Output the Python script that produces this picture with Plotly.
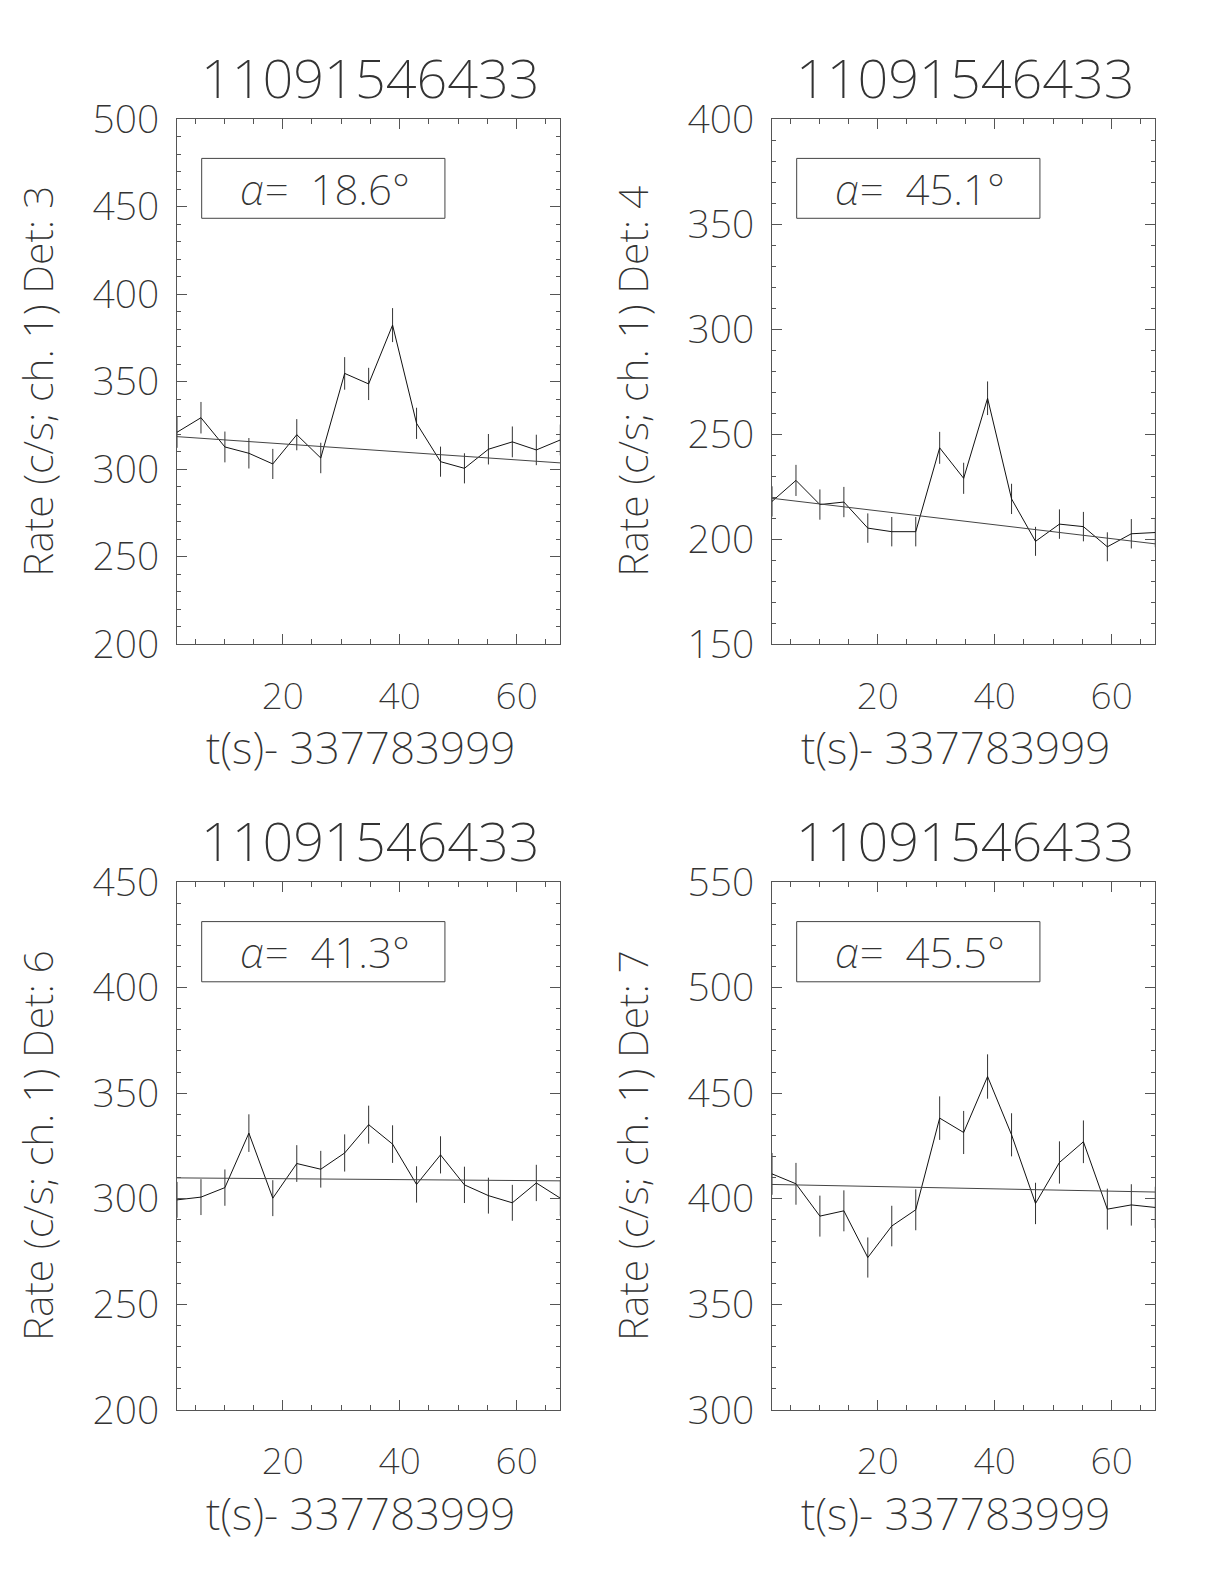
import plotly.graph_objects as go

# ---------------- data ----------------
t_sec = [1.92, 6.02, 10.11, 14.21, 18.30, 22.40, 26.50, 30.59, 34.69,
         38.78, 42.88, 46.98, 51.07, 55.17, 59.26, 63.36, 67.46]

title_id = "11091546433"
x_title = "t(s)- 337783999"
detectors = ["3", "4", "6", "7"]
alpha_deg = ["18.6", "45.1", "41.3", "45.5"]

rate_det3 = [321.1, 329.4, 312.7, 309.1, 303.0, 319.7, 306.4, 354.7, 348.7,
             382.3, 326.2, 304.3, 300.5, 311.4, 315.6, 311.0, 316.7]
err_det3 = [8.9, 9.0, 8.8, 8.7, 8.6, 8.9, 8.7, 9.3, 9.2,
            9.7, 8.9, 8.6, 8.6, 8.7, 8.8, 8.7, 8.8]

rate_det4 = [218.0, 228.0, 216.5, 217.7, 205.3, 203.6, 203.6, 243.5, 229.0,
             267.1, 219.2, 199.0, 207.2, 206.0, 196.4, 202.6, 203.2]
err_det4 = [7.2, 7.4, 7.2, 7.2, 7.0, 7.0, 7.0, 7.6, 7.4,
            8.0, 7.2, 6.9, 7.0, 7.0, 6.9, 7.0, 7.0]

rate_det6 = [299.5, 300.8, 305.3, 331.1, 300.3, 316.7, 314.0, 321.7, 335.1,
             325.9, 306.8, 320.8, 306.6, 301.5, 298.1, 307.5, 300.3]
err_det6 = [8.5, 8.5, 8.6, 8.9, 8.5, 8.7, 8.7, 8.8, 9.0,
            8.9, 8.6, 8.8, 8.6, 8.5, 8.5, 8.6, 8.5]

rate_det7 = [411.8, 407.1, 391.8, 394.3, 372.2, 387.1, 394.8, 438.2, 431.4,
             457.9, 430.3, 397.8, 417.2, 427.0, 395.1, 397.1, 395.9]
err_det7 = [9.9, 9.9, 9.7, 9.7, 9.5, 9.6, 9.7, 10.3, 10.2,
            10.5, 10.2, 9.8, 10.0, 10.1, 9.7, 9.8, 9.8]

# linear background fit: value at first and last time
fit_x = [1.92, 67.46]
fit_det3 = [318.6, 303.6]
fit_det4 = [219.5, 197.8]
fit_det6 = [309.9, 308.5]
fit_det7 = [406.8, 403.2]

y_ranges = [[200, 500], [150, 400], [200, 450], [300, 550]]
x_range = [1.92, 67.46]
x_tickvals = [20, 40, 60]

rates = [rate_det3, rate_det4, rate_det6, rate_det7]
errs = [err_det3, err_det4, err_det6, err_det7]
fits = [fit_det3, fit_det4, fit_det6, fit_det7]

# ---------------- layout geometry ----------------
W, H = 1224, 1584
OFF = 8  # the page body adds an 8px margin; compensate
xdoms = [[(177 - OFF) / W, (560.3 - OFF) / W], [(772 - OFF) / W, (1155.3 - OFF) / W]]
ydoms = [[1 - (644.3 - OFF) / H, 1 - (119 - OFF) / H],
         [1 - (1410 - OFF) / H, 1 - (882 - OFF) / H]]

FONT = "Noto Sans"
WT = 200
TXT = "#333333"
AX = "#555555"
NB = "\u00a0"

fig = go.Figure()
layout = dict(width=W, height=H, margin=dict(l=0, r=0, t=0, b=0, autoexpand=False),
              paper_bgcolor="white", plot_bgcolor="white", showlegend=False)
annotations = []
shapes = []

for i in range(4):
    r, c = divmod(i, 2)
    n = i + 1
    xa = "x" if n == 1 else f"x{n}"
    ya = "y" if n == 1 else f"y{n}"
    xkey = "xaxis" if n == 1 else f"xaxis{n}"
    ykey = "yaxis" if n == 1 else f"yaxis{n}"

    fig.add_trace(go.Scatter(
        x=t_sec, y=rates[i], mode="lines",
        line=dict(color="#111111", width=1),
        error_y=dict(type="data", array=errs[i], visible=True,
                     color="#333333", thickness=1, width=0),
        xaxis=xa, yaxis=ya, hoverinfo="skip"))
    fig.add_trace(go.Scatter(
        x=fit_x, y=fits[i], mode="lines",
        line=dict(color="#444444", width=1),
        xaxis=xa, yaxis=ya, hoverinfo="skip"))

    y0, y1 = y_ranges[i]
    layout[xkey] = dict(
        domain=xdoms[c], anchor=ya, range=x_range, automargin=False,
        tickvals=x_tickvals, ticktext=[str(v) for v in x_tickvals],
        ticks="inside", ticklen=10, tickwidth=1, tickcolor=AX,
        minor=dict(dtick=5, tick0=0, ticks="inside", ticklen=5,
                   tickwidth=1, tickcolor=AX, showgrid=False),
        showline=True, linecolor=AX, linewidth=1, mirror="ticks",
        showgrid=False, zeroline=False, ticklabelstandoff=19,
        tickfont=dict(family=FONT, size=37, color=TXT, weight=WT))
    layout[ykey] = dict(
        domain=ydoms[r], anchor=xa, range=[y0, y1], automargin=False,
        tick0=0, dtick=50,
        ticks="inside", ticklen=10, tickwidth=1, tickcolor=AX,
        minor=dict(dtick=10, tick0=0, ticks="inside", ticklen=4,
                   tickwidth=1, tickcolor=AX, showgrid=False),
        showline=True, linecolor=AX, linewidth=1, mirror="ticks",
        showgrid=False, zeroline=False, ticklabelstandoff=9,
        tickfont=dict(family=FONT, size=39, color=TXT, weight=WT))

    dom = f"{xa} domain"
    ydom = f"{ya} domain"
    # title
    annotations.append(dict(
        text=title_id, xref=dom, yref=ydom, x=0.505, y=1.0, yshift=42,
        xanchor="center", yanchor="middle", showarrow=False,
        font=dict(family=FONT, size=54, color=TXT, weight=WT)))
    # x title
    annotations.append(dict(
        text=x_title, xref=dom, yref=ydom, x=0.48, y=0.0, yshift=-103,
        xanchor="center", yanchor="middle", showarrow=False,
        font=dict(family=FONT, size=44, color=TXT, weight=WT)))
    # y title
    annotations.append(dict(
        text=f"Rate (c/s; ch. 1) Det: {detectors[i]}", xref="paper", yref=ydom,
        x=((37 if c == 0 else 632) - OFF) / W, y=0.5, textangle=-90,
        xanchor="center", yanchor="middle", showarrow=False,
        font=dict(family=FONT, size=41, color=TXT, weight=WT)))
    # alpha label box
    shapes.append(dict(type="rect", xref=dom, yref=ydom,
                       x0=0.0644, x1=0.699, y0=0.811, y1=0.925,
                       line=dict(color="#444444", width=1)))
    annotations.append(dict(
        text=f"<i>α</i>={NB}{NB}{alpha_deg[i]}°", xref=dom, yref=ydom,
        x=0.16, y=0.868, xanchor="left", yanchor="middle", showarrow=False,
        font=dict(family=FONT, size=42, color=TXT, weight=WT)))

layout["annotations"] = annotations
layout["shapes"] = shapes
fig.update_layout(**layout)
fig.write_html("out.html")
